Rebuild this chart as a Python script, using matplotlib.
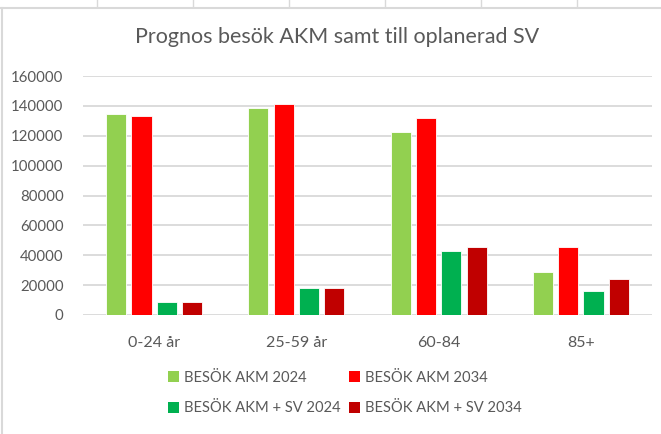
import matplotlib
matplotlib.use('Agg')
import matplotlib.pyplot as plt
import numpy as np
from matplotlib.lines import Line2D
from matplotlib.patches import Patch


categories = ['0-24 år', '25-59 år', '60-84', '85+']
series_names = ['BESÖK AKM 2024', 'BESÖK AKM 2034',
                'BESÖK AKM + SV 2024', 'BESÖK AKM + SV 2034']
besok_2024 = [134400, 138400, 122200, 29100]
besok_2034 = [132900, 141100, 131600, 45600]
besok_sv_2024 = [8900, 18400, 42900, 15800]
besok_sv_2034 = [8800, 18400, 45600, 23800]
y_ticks = [0, 20000, 40000, 60000, 80000, 100000, 120000, 140000, 160000]

COLORS = ['#92D050', '#FF0000', '#00B050', '#C00000']
TEXT = '#595959'
FONT = 'Lato'


def main():
    plt.rcParams['font.family'] = [FONT, 'DejaVu Sans']
    W, H = 661, 434
    fig = plt.figure(figsize=(W / 100, H / 100), dpi=100)
    fig.patch.set_facecolor('white')

    # excel cell grid peeking out above the chart + chart border
    for xp in [97, 193, 289, 385, 481, 577]:
        fig.add_artist(Line2D([xp / W, xp / W], [1, 1 - 7 / H], color='#D9D9D9', lw=1))
    fig.add_artist(Line2D([0, 1], [1 - 7.5 / H, 1 - 7.5 / H], color='#D9D9D9', lw=1.5))
    fig.add_artist(Line2D([1.5 / W, 1.5 / W], [0, 1 - 7.5 / H], color='#D9D9D9', lw=1.5))

    ax = fig.add_axes([83 / W, 1 - 315 / H, (652 - 83) / W, (315 - 76) / H])
    values = [besok_2024, besok_2034, besok_sv_2024, besok_sv_2034]
    x = np.arange(len(categories))
    slot = 0.178
    width = 0.142
    for i, (vals, col) in enumerate(zip(values, COLORS)):
        ax.bar(x + (i - 1.5) * slot, vals, width, color=col,
               edgecolor='white', linewidth=0.6, zorder=3)

    ax.set_xlim(-0.5, len(categories) - 0.5)
    ax.set_ylim(0, 160000)
    ax.set_yticks(y_ticks)
    ax.set_yticklabels([str(t) for t in y_ticks])
    ax.set_xticks(x)
    ax.set_xticklabels(categories)
    ax.yaxis.grid(True, color='#D9D9D9', lw=1.3, zorder=0)
    ax.tick_params(axis='y', length=0, pad=14, labelsize=10.8, labelcolor=TEXT)
    ax.tick_params(axis='x', length=0, pad=15, labelsize=11.5, labelcolor=TEXT)
    for s in ax.spines.values():
        s.set_visible(False)

    fig.text(337 / W, 1 - 37 / H, 'Prognos besök AKM samt till oplanerad SV',
             ha='center', va='center', fontsize=15.5, color=TEXT)

    handles = [Patch(facecolor=c, edgecolor='none') for c in COLORS]
    order = [0, 2, 1, 3]
    fig.legend([handles[i] for i in order], [series_names[i] for i in order],
               ncol=2, loc='center left', bbox_to_anchor=(155 / W, 1 - 393 / H),
               frameon=False, fontsize=10.6, labelcolor=TEXT,
               handlelength=0.75, handleheight=0.75, handletextpad=0.35,
               columnspacing=0.55, labelspacing=1.15)

    fig.savefig('out.png', dpi=100)


if __name__ == '__main__':
    main()
